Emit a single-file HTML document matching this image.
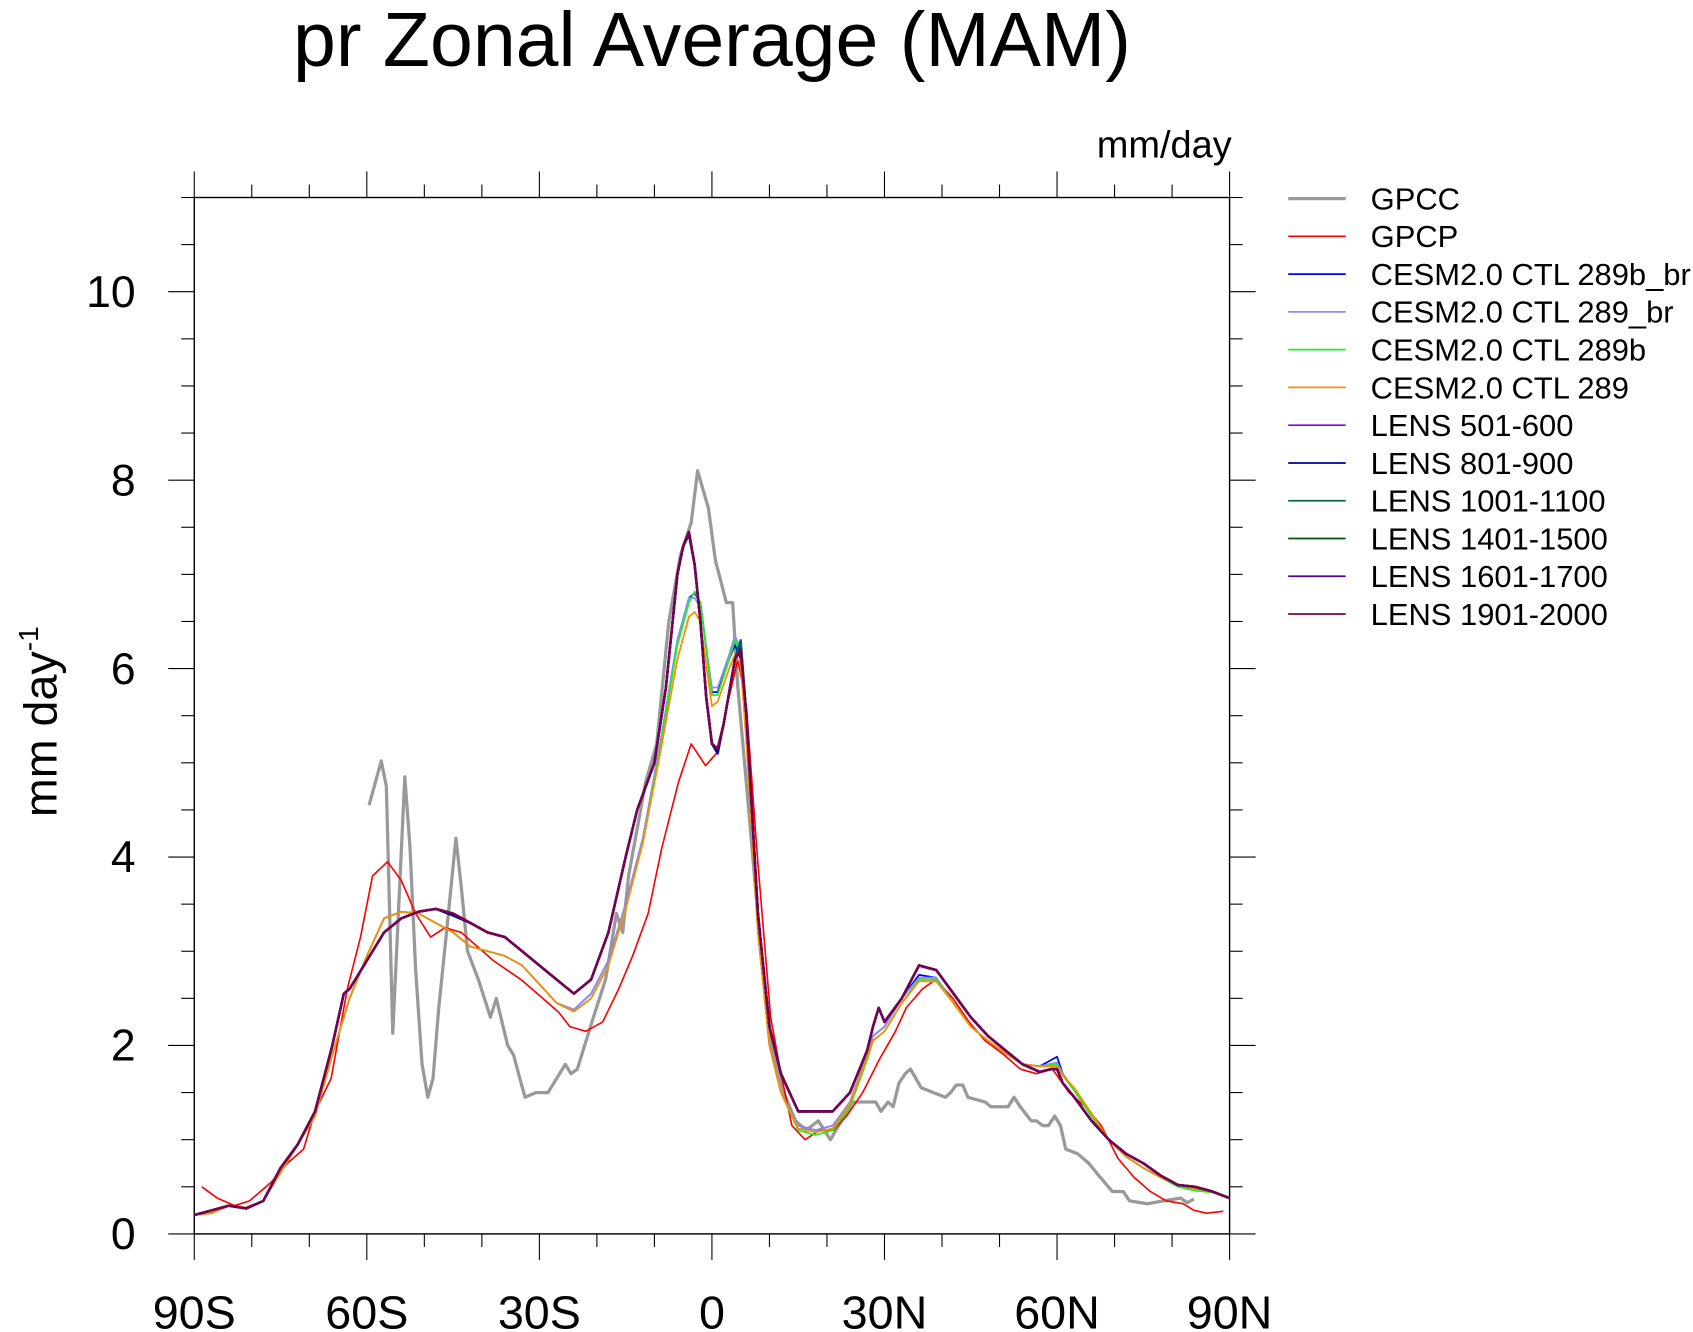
<!DOCTYPE html>
<html><head><meta charset="utf-8"><style>
html,body{margin:0;padding:0;background:#fff}
svg{display:block}
text{font-family:"Liberation Sans",sans-serif;fill:#000}
</style></head><body>
<svg id="chart" width="1693" height="1332" viewBox="0 0 1560 1227.4" preserveAspectRatio="none" xmlns="http://www.w3.org/2000/svg">
<text x="656" y="61" font-size="71" text-anchor="middle">pr Zonal Average (MAM)</text>
<text x="1135" y="145" font-size="35" text-anchor="end">mm/day</text>
<text transform="translate(52,665) rotate(-90)" font-size="43" text-anchor="middle">mm day<tspan dy="-17" font-size="26">-1</tspan></text>
<g id="axes"></g>
<g id="series"></g>
<g id="legend"></g>
</svg>
<script>
const gpccLat=[-59.6,-57.5,-56.6,-55.5,-53.4,-52.5,-51.5,-50.4,-49.4,-48.5,-47.5,-46.4,-44.5,-43.6,-42.5,-40.6,-38.5,-37.5,-35.5,-34.5,-33.4,-32.5,-30.6,-28.5,-27.5,-25.5,-24.5,-23.4,-20.6,-18.5,-16.6,-15.5,-14.5,-11.5,-9.6,-7.5,-5.5,-3.6,-2.5,-0.6,0.6,2.5,3.6,4.5,6.4,8.5,10.4,12.5,14.5,16.4,18.5,20.6,22.5,24.5,26.6,28.5,29.4,30.6,31.5,32.5,33.6,34.5,36.4,38.5,40.6,41.5,42.5,43.6,44.5,47.5,48.5,51.5,52.5,53.6,55.5,56.4,57.5,58.5,59.6,60.6,61.5,63.6,65.5,67.5,69.6,71.5,72.6,75.7,78.5,81.5,82.6,83.8];
const gpccVal=[4.55,5.02,4.75,2.13,4.85,4.1,2.8,1.8,1.45,1.65,2.4,3.05,4.2,3.7,3.0,2.7,2.3,2.5,2.0,1.9,1.65,1.45,1.5,1.5,1.6,1.8,1.7,1.75,2.3,2.7,3.4,3.2,3.8,4.8,5.2,6.5,7.2,7.55,8.1,7.7,7.15,6.7,6.7,5.8,4.5,3.0,2.0,1.5,1.2,1.1,1.2,1.0,1.2,1.4,1.4,1.4,1.3,1.4,1.35,1.6,1.7,1.75,1.55,1.5,1.45,1.5,1.58,1.58,1.45,1.4,1.35,1.35,1.45,1.35,1.2,1.2,1.15,1.15,1.25,1.15,0.9,0.85,0.75,0.6,0.45,0.45,0.35,0.32,0.35,0.38,0.33,0.37];
const gpcpLat=[-88.7,-86,-83,-80.4,-76.6,-73.8,-71,-69,-66.2,-63.4,-61.1,-59,-56.4,-54,-51.5,-48.9,-46.4,-43.6,-40.8,-38,-33.2,-29.4,-26.6,-24.7,-21.9,-19,-16.2,-13.8,-11.1,-8.7,-5.8,-3.6,-1.1,0.8,3,4.5,6,7.9,10.2,12,13.9,16.2,18.7,21.1,23.4,26.2,29.1,31.9,33.8,36.6,38.9,41.9,44.7,47.5,50.8,53.6,56.4,59.2,62.1,64.9,67.7,70.6,73.4,76.2,79,81.9,83.8,86,88.9];
const gpcpVal=[0.5,0.38,0.3,0.35,0.55,0.75,0.9,1.3,1.65,2.6,3.15,3.8,3.95,3.75,3.4,3.15,3.25,3.2,3.05,2.9,2.7,2.5,2.35,2.2,2.15,2.25,2.6,2.95,3.4,4.1,4.8,5.2,4.97,5.1,5.7,6.1,5.6,4.0,2.3,1.7,1.15,1.0,1.1,1.1,1.25,1.5,1.85,2.15,2.4,2.6,2.7,2.5,2.25,2.05,1.9,1.75,1.7,1.75,1.5,1.35,1.15,0.8,0.6,0.45,0.35,0.32,0.25,0.22,0.24];
const cesmLat=[-90,-87,-84,-81,-78,-75,-72,-69,-66,-63,-60,-57,-54,-51,-48,-45,-42,-39,-36,-33,-30,-27,-24,-21,-18,-15,-12,-9,-6,-4,-3,-2,0,1,3,4,5,6,8,10,12,15,18,21,24,27,28,30,33,36,39,42,45,48,51,54,57,60,61,63,66,69,72,75,78,81,84,87,90];
const cesm289bbr=[0.2,0.22,0.3,0.28,0.35,0.65,0.95,1.25,1.9,2.5,2.95,3.35,3.42,3.4,3.3,3.2,3.05,3.0,2.95,2.85,2.65,2.45,2.38,2.55,2.9,3.5,4.2,5.2,6.3,6.75,6.8,6.7,5.75,5.75,6.1,6.25,6.1,5.3,3.2,2.0,1.5,1.15,1.1,1.15,1.4,1.9,2.1,2.2,2.5,2.75,2.72,2.45,2.2,2.05,1.92,1.8,1.78,1.88,1.7,1.52,1.25,1.0,0.82,0.7,0.6,0.52,0.48,0.45,0.38];
const cesm289br=[0.2,0.22,0.3,0.28,0.35,0.65,0.95,1.25,1.9,2.5,2.95,3.35,3.42,3.4,3.3,3.2,3.05,3.0,2.95,2.85,2.65,2.45,2.38,2.55,2.9,3.5,4.2,5.2,6.3,6.75,6.75,6.65,5.8,5.8,6.15,6.35,6.2,5.3,3.2,2.0,1.5,1.15,1.1,1.15,1.4,1.9,2.1,2.2,2.5,2.72,2.72,2.45,2.2,2.05,1.92,1.8,1.78,1.82,1.7,1.52,1.25,1.0,0.82,0.7,0.6,0.52,0.48,0.45,0.38];
const cesm289b=[0.2,0.22,0.3,0.28,0.35,0.65,0.95,1.25,1.9,2.5,2.95,3.35,3.42,3.4,3.3,3.2,3.05,3.0,2.95,2.85,2.65,2.45,2.36,2.5,2.85,3.45,4.15,5.15,6.25,6.7,6.82,6.7,5.72,5.72,6.1,6.3,6.15,5.3,3.2,2.0,1.5,1.1,1.05,1.1,1.35,1.85,2.05,2.15,2.45,2.7,2.7,2.45,2.2,2.05,1.92,1.8,1.78,1.8,1.68,1.52,1.25,1.0,0.82,0.7,0.6,0.5,0.46,0.44,0.38];
const cesm289=[0.2,0.22,0.3,0.28,0.35,0.65,0.95,1.25,1.9,2.5,2.95,3.35,3.42,3.4,3.3,3.2,3.05,3.0,2.95,2.85,2.65,2.45,2.36,2.5,2.85,3.45,4.15,5.1,6.1,6.55,6.6,6.5,5.6,5.65,6.0,6.15,6.05,5.2,3.2,2.0,1.5,1.12,1.08,1.12,1.38,1.88,2.05,2.15,2.45,2.68,2.68,2.45,2.2,2.05,1.92,1.8,1.78,1.78,1.68,1.55,1.28,1.0,0.82,0.7,0.6,0.52,0.48,0.45,0.38];
const lensLat=[-90,-87,-84,-81,-78,-75,-72,-69,-66,-64,-63,-60,-57,-54,-51,-48,-45,-42,-39,-36,-33,-30,-27,-24,-21,-18,-15,-13,-10,-8,-6,-5,-4,-3,-2,-1,0,1,2,4,5,6,8,10,12,15,18,21,24,27,28,29,30,33,36,39,42,45,48,51,54,57,59,60,61,63,66,69,72,75,78,81,84,87,90];
const lens501=[0.2,0.25,0.3,0.27,0.35,0.7,0.95,1.3,2.0,2.55,2.6,2.9,3.2,3.35,3.42,3.45,3.4,3.3,3.2,3.15,3.0,2.85,2.7,2.55,2.7,3.2,4.0,4.5,5.0,5.8,7.0,7.3,7.45,7.1,6.5,5.7,5.2,5.15,5.4,6.1,6.2,5.5,3.4,2.2,1.7,1.3,1.3,1.3,1.5,1.95,2.2,2.4,2.25,2.5,2.85,2.8,2.55,2.3,2.1,1.95,1.8,1.72,1.75,1.75,1.6,1.45,1.2,1.0,0.85,0.75,0.62,0.52,0.5,0.45,0.38];
const lens801=[0.2,0.25,0.3,0.27,0.35,0.7,0.95,1.3,2.0,2.55,2.6,2.9,3.2,3.35,3.42,3.45,3.38,3.3,3.2,3.15,3.0,2.85,2.7,2.55,2.7,3.2,4.0,4.5,5.0,5.8,7.0,7.3,7.42,7.1,6.5,5.7,5.2,5.1,5.4,6.1,6.25,5.5,3.4,2.2,1.7,1.3,1.3,1.3,1.5,1.95,2.2,2.4,2.25,2.5,2.85,2.8,2.55,2.3,2.1,1.95,1.8,1.72,1.75,1.75,1.6,1.45,1.2,1.0,0.85,0.75,0.62,0.52,0.5,0.45,0.38];
const lens1001=[0.2,0.25,0.3,0.27,0.35,0.7,0.95,1.3,2.0,2.55,2.6,2.9,3.2,3.35,3.42,3.45,3.4,3.3,3.2,3.15,3.0,2.85,2.7,2.55,2.7,3.2,4.0,4.5,5.0,5.8,7.0,7.3,7.45,7.1,6.5,5.7,5.2,5.15,5.4,6.1,6.3,5.5,3.4,2.2,1.7,1.3,1.3,1.3,1.5,1.95,2.2,2.4,2.25,2.5,2.85,2.8,2.55,2.3,2.1,1.95,1.8,1.72,1.75,1.75,1.6,1.45,1.2,1.0,0.85,0.75,0.62,0.52,0.5,0.45,0.38];
const lens1401=[0.2,0.25,0.3,0.27,0.35,0.7,0.95,1.3,2.0,2.55,2.6,2.9,3.2,3.35,3.42,3.45,3.4,3.3,3.2,3.15,3.0,2.85,2.7,2.55,2.7,3.2,4.0,4.5,5.0,5.8,7.0,7.3,7.45,7.1,6.5,5.7,5.2,5.15,5.4,6.1,6.2,5.5,3.4,2.2,1.7,1.3,1.3,1.3,1.5,1.95,2.2,2.4,2.25,2.5,2.85,2.8,2.55,2.3,2.1,1.95,1.8,1.72,1.75,1.75,1.6,1.45,1.2,1.0,0.85,0.75,0.62,0.52,0.5,0.45,0.38];
const lens1601=[0.2,0.25,0.3,0.27,0.35,0.7,0.95,1.3,2.0,2.55,2.6,2.9,3.2,3.35,3.42,3.45,3.4,3.3,3.2,3.15,3.0,2.85,2.7,2.55,2.7,3.2,4.0,4.5,5.0,5.8,7.0,7.3,7.45,7.1,6.5,5.7,5.2,5.15,5.4,6.1,6.2,5.5,3.4,2.2,1.7,1.3,1.3,1.3,1.5,1.95,2.2,2.4,2.25,2.5,2.85,2.8,2.55,2.3,2.1,1.95,1.8,1.72,1.75,1.75,1.6,1.45,1.2,1.0,0.85,0.75,0.62,0.52,0.5,0.45,0.38];
const lens1901=[0.2,0.25,0.3,0.27,0.35,0.7,0.95,1.3,2.0,2.55,2.6,2.9,3.2,3.35,3.42,3.45,3.4,3.3,3.2,3.15,3.0,2.85,2.7,2.55,2.7,3.2,4.0,4.5,5.0,5.8,7.0,7.3,7.45,7.1,6.5,5.7,5.2,5.15,5.4,6.1,6.2,5.5,3.4,2.2,1.7,1.3,1.3,1.3,1.5,1.95,2.2,2.4,2.25,2.5,2.85,2.8,2.55,2.3,2.1,1.95,1.8,1.72,1.75,1.75,1.6,1.45,1.2,1.0,0.85,0.75,0.62,0.52,0.5,0.45,0.38];
const xTickVals=[-90,-60,-30,0,30,60,90];
const xTickLabels=["90S","60S","30S","0","30N","60N","90N"];
const yTickVals=[0,2,4,6,8,10];
const yTickLabels=["0","2","4","6","8","10"];
const legendLabels=["GPCC","GPCP","CESM2.0 CTL 289b_br","CESM2.0 CTL 289_br","CESM2.0 CTL 289b","CESM2.0 CTL 289","LENS 501-600","LENS 801-900","LENS 1001-1100","LENS 1401-1500","LENS 1601-1700","LENS 1901-2000"];

const NS="http://www.w3.org/2000/svg";
const L=179,R=1133,T=182,B=1137,YMAX=11;
const xs=v=>L+(v+90)/180*(R-L);
const ys=v=>B-v/YMAX*(B-T);
function mk(tag,attrs,parent){const e=document.createElementNS(NS,tag);for(const k in attrs)e.setAttribute(k,attrs[k]);parent.appendChild(e);return e;}
const axes=document.getElementById('axes');
const frame=mk('rect',{x:L,y:T,width:R-L,height:B-T,fill:'none',stroke:'#000','stroke-width':1.3},axes);


for(let v=-90;v<=90;v+=10){
  const maj=v%30===0,len=maj?24:12,x=xs(v);
  const t1=mk('line',{x1:x,y1:B,x2:x,y2:B+len,stroke:'#000','stroke-width':1},axes);
  
  
  const t2=mk('line',{x1:x,y1:T,x2:x,y2:T-len,stroke:'#000','stroke-width':1},axes);
  
  
}
for(let i=0;i<=22;i++){
  const v=i*0.5,maj=i%4===0,len=maj?24:12,y=ys(v);
  const t1=mk('line',{x1:L,y1:y,x2:L-len,y2:y,stroke:'#000','stroke-width':1},axes);
  
  
  const t2=mk('line',{x1:R,y1:y,x2:R+len,y2:y,stroke:'#000','stroke-width':1},axes);
  
  
}
xTickVals.forEach((v,i)=>{const t=mk('text',{x:xs(v),y:1224,'font-size':43,'text-anchor':'middle'},axes);t.textContent=xTickLabels[i];
  
  });
yTickVals.forEach((v,i)=>{const t=mk('text',{x:125,y:ys(v)+14,'font-size':41,'text-anchor':'end'},axes);t.textContent=yTickLabels[i];
  
  });

const sg=document.getElementById('series');
const seriesDefs=[
 [gpccLat,gpccVal,'#999999',3,'gpcc-line'],
 [gpcpLat,gpcpVal,'#ff0000',1.5,'gpcp-line'],
 [cesmLat,cesm289bbr,'#0000ff',1.6,'cesm-289b-br-line'],
 [cesmLat,cesm289br,'#8c8cff',1.6,'cesm-289-br-line'],
 [cesmLat,cesm289b,'#22ee22',1.6,'cesm-289b-line'],
 [cesmLat,cesm289,'#ff8c00',1.6,'cesm-289-line'],
 [lensLat,lens501,'#8a00ff',2.2,'lens-501-600-line'],
 [lensLat,lens801,'#000090',2.2,'lens-801-900-line'],
 [lensLat,lens1001,'#006655',2.2,'lens-1001-1100-line'],
 [lensLat,lens1401,'#005000',2.2,'lens-1401-1500-line'],
 [lensLat,lens1601,'#560099',2.2,'lens-1601-1700-line'],
 [lensLat,lens1901,'#7a0050',2.2,'lens-1901-2000-line']];
seriesDefs.forEach(d=>{
  const pts=d[0].map((la,i)=>xs(la).toFixed(1)+','+ys(d[1][i]).toFixed(1)).join(' ');
  const p=mk('polyline',{points:pts,fill:'none',stroke:d[2],'stroke-width':d[3],'stroke-linejoin':'round'},sg);
  
  
});
const lg=document.getElementById('legend');
legendLabels.forEach((lab,i)=>{
  const y=183+i*34.8;
  const ln=mk('line',{x1:1187,y1:y,x2:1240,y2:y,stroke:seriesDefs[i][2],'stroke-width':Math.min(seriesDefs[i][3],1.6)+(i===0?1.4:0)},lg);
  
  
  const t=mk('text',{x:1263,y:y+10,'font-size':28.5},lg);
  t.textContent=lab;
  
  
});
</script>
</body></html>
